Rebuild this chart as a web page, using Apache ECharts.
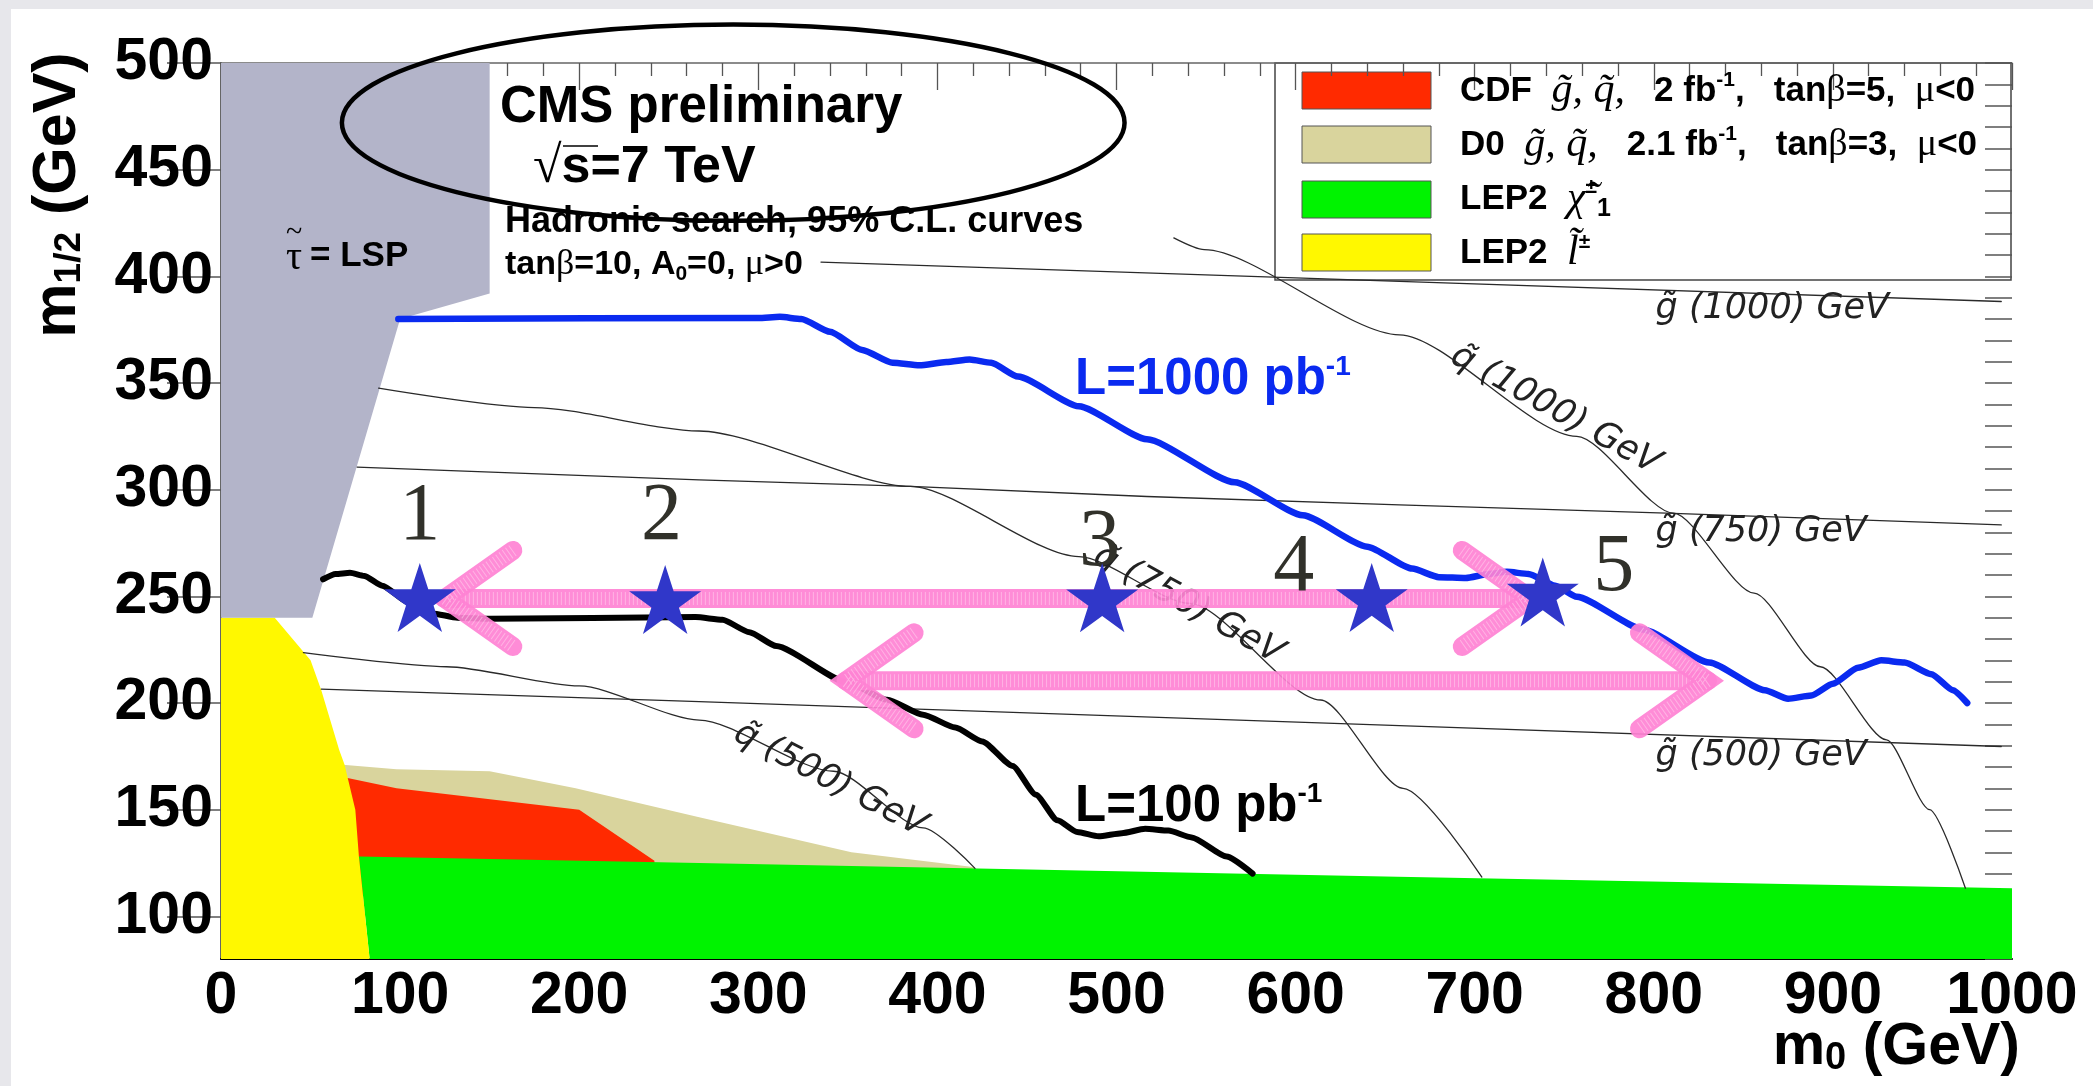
<!DOCTYPE html>
<html>
<head>
<meta charset="utf-8">
<script src="https://cdn.jsdelivr.net/npm/echarts@6/dist/echarts.min.js"></script>
<style>
html, body { margin: 0; padding: 0; background: #e7e7eb; }
#chart { position: absolute; left: 0; top: 0; width: 2093px; height: 1086px; }
</style>
</head>
<body>
<div id="chart"></div>
<script>
// ---- axis ticks ----
const yTickLabels = [100, 150, 200, 250, 300, 350, 400, 450, 500];
const yMinorTicks = [80, 90, 100, 110, 120, 130, 140, 150, 160, 170, 180, 190, 200, 210, 220, 230, 240, 250,
  260, 270, 280, 290, 300, 310, 320, 330, 340, 350, 360, 370, 380, 390, 400, 410, 420, 430, 440, 450, 460, 470, 480, 490, 500];

// ---- excluded regions (m0, m1/2) ----
const tauLspRegion = [[0, 500], [150, 500], [150, 392], [100, 380], [51, 240], [0, 240]];
const lep2SleptonRegion = [[0, 80], [0, 240], [30, 240], [46, 224], [50, 220], [56, 206], [66, 178], [69, 171], [75, 150], [77, 128], [83, 80]];
const d0Region = [[68, 171], [98, 169], [150, 168], [198, 160], [267, 146.5], [352, 130], [421, 123], [421, 100], [68, 100]];
const cdfRegion = [[70, 165], [98, 160], [200, 150], [242, 126], [242, 110], [76, 110]];
const lep2CharginoRegion = [[77, 128], [267, 125], [657, 118.6], [1000, 113.2], [1000, 80], [83, 80]];

// ---- iso-mass contours ----
const gluino500 = [[56, 206.5], [267, 200.6], [658, 189.4], [994, 179.6]];
const gluino750 = [[76, 310.6], [267, 304.6], [385, 301.5], [517, 296.8], [658, 292.9], [807, 289], [994, 283.5]];
const gluino1000 = [[335, 406.7], [575, 400], [658, 397.6], [994, 388.2]];
const squark500 = [[46, 223.6], [126, 217], [200, 208], [267, 192], [342, 168], [392, 141.5], [421, 122.5]];
const squark750 = [[88, 347.6], [175, 338.5], [267, 327.5], [385, 301.5], [479, 268.6], [541, 246.7], [614, 201.4], [660, 160], [704, 118.4]];
const squark1000 = [[532, 418], [549, 412.5], [658, 372.6], [757, 325], [811, 289], [856, 251.5], [893, 217], [930, 182.7], [954, 150], [974, 113.2]];

// ---- 95% C.L. reach ----
const limit100 = [[57, 258], [64, 260.5], [72, 261], [80, 259.5], [90, 255], [105, 247], [118, 242], [132, 240], [150, 239.5],
  [265, 240.3], [280, 239], [295, 233.2], [310, 226.7], [350, 209.5], [372, 201.5], [392, 194.5], [410, 188.5], [425, 182],
  [442, 170.5], [455, 157], [467, 145], [478, 139.5], [490, 137.5], [503, 139], [516, 141], [529, 140.2], [542, 137],
  [561.5, 128], [576, 120]];
const limit1000 = [[99, 380], [300, 380.5], [312, 381], [324, 380], [340, 374], [358, 365.5], [375, 359.5], [390, 358.3],
  [405, 359.8], [418, 361], [430, 359.5], [445, 353], [479, 339.1], [517, 323.6], [566, 303.5], [604, 288], [640, 273.3],
  [665, 263], [680, 259], [695, 258.6], [708, 260.5], [718, 261.5], [730, 260.5], [745, 255], [757, 249.8], [794, 234.5],
  [831, 219], [862, 206], [875, 202], [888, 203.5], [900, 209], [914, 216.5], [927, 220], [940, 219], [955, 213.5],
  [967, 206], [975, 200]];

// ---- benchmark points and scan arrows ----
const benchmarkPoints = [[111, 249.5], [248, 248.5], [492, 249.3], [642.5, 249.5], [738, 252]];
const benchmarkNumbers = [['1', 111, 287], ['2', 246, 287], ['3', 490.5, 275], ['4', 599, 263], ['5', 777.7, 263]];
const scanArrows = [[125, 731, 249], [349, 830, 210.4]]; // [from m0, to m0, m1/2]

// ---- contour labels [text, m0, m1/2, angle in degrees, anchor] ----
const contourLabels = [
  ['g\u0303 (1000) GeV', 801, 384.6, 0, 'left'],
  ['g\u0303 (750) GeV', 801, 280, 0, 'left'],
  ['g\u0303 (500) GeV', 801, 175, 0, 'left'],
  ['q\u0303 (1000) GeV', 745, 337.4, -29, 'center'],
  ['q\u0303 (750) GeV', 540, 246, -29, 'center'],
  ['q\u0303 (500) GeV', 340, 164, -27.5, 'center']
];

// ---- highlight ellipse [m0, m1/2, half width in m0, half height in m1/2] ----
const highlightEllipse = [[286, 472, 218.5, 46]];

const SANS = '"Liberation Sans", Arial, Helvetica, sans-serif';
const SERIF = '"Liberation Serif", "DejaVu Serif", "Times New Roman", serif';

const chart = echarts.init(document.getElementById('chart'), null, { renderer: 'canvas' });

function regionSeries(name, pts, color, z) {
  return {
    type: 'custom', name: name, z: z, silent: true, data: [pts[0]],
    renderItem: function (params, api) {
      return {
        type: 'polygon',
        shape: { points: pts.map(function (p) { return api.coord(p); }) },
        style: { fill: color, stroke: null }
      };
    }
  };
}

function lineSeries(name, pts, color, width, smooth, z) {
  return {
    type: 'line', name: name, data: pts, z: z, silent: true,
    showSymbol: false, symbol: 'none', smooth: smooth, smoothMonotone: 'x',
    lineStyle: { color: color, width: width, cap: 'round', join: 'round' },
    animation: false
  };
}

const starPath = 'path://M50,0 L61.8,36.2 L100,36.2 L69.1,58.6 L80.9,95.1 L50,72.7 L19.1,95.1 L30.9,58.6 L0,36.2 L38.2,36.2 Z';

function legendRich() {
  return {
    b: { fontFamily: SANS, fontWeight: 'bold', fontSize: 35, fill: '#000' },
    g: { fontFamily: SERIF, fontStyle: 'italic', fontSize: 42, fill: '#000' },
    s: { fontFamily: SERIF, fontSize: 38, fill: '#000' },
    u: { fontFamily: SANS, fontWeight: 'bold', fontSize: 21, fill: '#000', verticalAlign: 'top', padding: [0, 0, 20, 0] },
    d: { fontFamily: SANS, fontWeight: 'bold', fontSize: 25, fill: '#000', verticalAlign: 'bottom', padding: [20, 0, 0, 0] }
  };
}

const option = {
  animation: false,
  backgroundColor: 'transparent',
  grid: { left: 221, right: 81, top: 63, bottom: 127, containLabel: false },
  xAxis: [
    {
      type: 'value', min: 0, max: 1000, interval: 100, position: 'bottom',
      axisLine: { show: true, lineStyle: { color: '#000', width: 2 } },
      axisTick: { show: false }, splitLine: { show: false },
      axisLabel: { margin: 8, color: '#000', fontFamily: SANS, fontWeight: 'bold', fontSize: 59, formatter: function (v) { return String(v); } }
    },
    {
      type: 'value', min: 0, max: 1000, interval: 100, position: 'top',
      axisLine: { show: true, lineStyle: { color: '#666', width: 1.5 } },
      axisTick: { show: true, inside: true, length: 27, lineStyle: { color: '#555', width: 1.3 } },
      minorTick: { show: true, splitNumber: 5, length: 13, lineStyle: { color: '#555', width: 1.3 } },
      axisLabel: { show: false }, splitLine: { show: false }
    }
  ],
  yAxis: [
    {
      type: 'value', min: 80, max: 500, position: 'left',
      axisLine: { show: false }, axisTick: { show: false }, splitLine: { show: false },
      axisLabel: { customValues: yTickLabels, margin: 8, color: '#000', fontFamily: SANS, fontWeight: 'bold', fontSize: 59 }
    },
    {
      type: 'value', min: 80, max: 500, position: 'right',
      axisLine: { show: true, lineStyle: { color: '#666', width: 2 } },
      axisTick: { show: true, inside: true, length: 54, customValues: yTickLabels, lineStyle: { color: '#555', width: 1.5 } },
      axisLabel: { show: false }, splitLine: { show: false }
    },
    {
      type: 'value', min: 80, max: 500, position: 'right',
      axisLine: { show: false },
      axisTick: { show: true, inside: true, length: 27, customValues: yMinorTicks, lineStyle: { color: '#555', width: 1.5 } },
      axisLabel: { show: false }, splitLine: { show: false }
    }
  ],
  series: [
    regionSeries('D0', d0Region, '#d9d49d', 2),
    regionSeries('CDF', cdfRegion, '#ff2a00', 2),
    regionSeries('LEP2 chargino', lep2CharginoRegion, '#00f300', 2),
    regionSeries('LEP2 slepton', lep2SleptonRegion, '#fff800', 2),
    regionSeries('stau LSP', tauLspRegion, '#b3b4c9', 2),
    lineSeries('g500', gluino500, '#2a2a2a', 1.3, false, 3),
    lineSeries('g750', gluino750, '#2a2a2a', 1.3, false, 3),
    lineSeries('g1000', gluino1000, '#2a2a2a', 1.3, false, 3),
    lineSeries('q500', squark500, '#2a2a2a', 1.3, 0.25, 3),
    lineSeries('q750', squark750, '#2a2a2a', 1.3, 0.25, 3),
    lineSeries('q1000', squark1000, '#2a2a2a', 1.3, 0.25, 3),
    lineSeries('L=100', limit100, '#000000', 6, 0.2, 4),
    lineSeries('L=1000', limit1000, '#0a2af0', 6.5, 0.2, 4),
    {
      type: 'custom', name: 'contour labels', z: 5, silent: true, data: contourLabels.map(function (d) { return [d[1], d[2]]; }),
      renderItem: function (params, api) {
        const d = contourLabels[params.dataIndex];
        const p = api.coord([d[1], d[2]]);
        return {
          type: 'text', x: p[0], y: p[1], rotation: d[3] * Math.PI / 180,
          style: { text: d[0], fill: '#222', fontFamily: '"DejaVu Sans", sans-serif', fontStyle: 'italic', fontSize: 35, align: d[4], verticalAlign: 'middle' }
        };
      }
    },
    {
      type: 'custom', name: 'scan arrows', z: 6, silent: true, data: scanArrows.map(function (a) { return [a[0], a[2]]; }),
      renderItem: function (params, api) {
        const a = scanArrows[params.dataIndex];
        const p1 = api.coord([a[0], a[2]]);
        const p2 = api.coord([a[1], a[2]]);
        const hx = 68, hy = 48;
        const paths = [
          [p1, p2],
          [[p1[0] + hx, p1[1] - hy], p1, [p1[0] + hx, p1[1] + hy]],
          [[p2[0] - hx, p2[1] - hy], p2, [p2[0] - hx, p2[1] + hy]]
        ];
        const children = [];
        paths.forEach(function (pts) {
          children.push({ type: 'polyline', shape: { points: pts }, style: { stroke: 'rgba(255,130,212,0.92)', lineWidth: 19, lineCap: 'round', lineJoin: 'miter', fill: null } });
          children.push({ type: 'polyline', shape: { points: pts }, style: { stroke: 'rgba(255,220,242,0.5)', lineWidth: 13, lineDash: [1, 3], lineCap: 'butt', fill: null } });
        });
        return { type: 'group', children: children };
      }
    },
    {
      type: 'scatter', name: 'benchmarks', z: 7, silent: true, data: benchmarkPoints,
      symbol: starPath, symbolSize: [72, 69], itemStyle: { color: '#3037c9', opacity: 1 }
    },
    {
      type: 'custom', name: 'benchmark numbers', z: 7, silent: true, data: benchmarkNumbers.map(function (d) { return [d[1], d[2]]; }),
      renderItem: function (params, api) {
        const d = benchmarkNumbers[params.dataIndex];
        const p = api.coord([d[1], d[2]]);
        return {
          type: 'text', x: p[0], y: p[1],
          style: { text: d[0], fill: '#31312a', fontFamily: SERIF, fontSize: 82, align: 'center', verticalAlign: 'middle' }
        };
      }
    },
    {
      type: 'custom', name: 'ellipse', z: 9, silent: true, data: highlightEllipse.map(function (e) { return [e[0], e[1]]; }),
      renderItem: function (params, api) {
        const e = highlightEllipse[params.dataIndex];
        const c = api.coord([e[0], e[1]]);
        const s = api.size([e[2], e[3]]);
        return {
          type: 'ellipse', shape: { cx: c[0], cy: c[1], rx: s[0], ry: s[1] },
          style: { fill: null, stroke: '#000', lineWidth: 4.5 }
        };
      }
    }
  ],
  graphic: [
    // white panel
    { type: 'rect', z: -10, shape: { x: 11, y: 9, width: 2082, height: 1077 }, style: { fill: '#ffffff' } },
    // axis titles
    {
      type: 'text', z: 10, x: 58, y: 195, rotation: Math.PI / 2,
      style: {
        text: '{t|m}{s|1/2}{t| (GeV)}', align: 'center', verticalAlign: 'middle',
        rich: {
          t: { fontFamily: SANS, fontWeight: 'bold', fontSize: 61, fill: '#000' },
          s: { fontFamily: SANS, fontWeight: 'bold', fontSize: 37, fill: '#000', verticalAlign: 'bottom', padding: [22, 0, 0, 0] }
        }
      }
    },
    {
      type: 'text', z: 10, x: 2020, y: 1048,
      style: {
        text: '{t|m}{s|0}{t| (GeV)}', align: 'right', verticalAlign: 'middle',
        rich: {
          t: { fontFamily: SANS, fontWeight: 'bold', fontSize: 59, fill: '#000' },
          s: { fontFamily: SANS, fontWeight: 'bold', fontSize: 38, fill: '#000', verticalAlign: 'bottom', padding: [22, 0, 0, 0] }
        }
      }
    },
    // stau LSP label
    { type: 'text', z: 10, x: 286, y: 258, style: { text: '\u03c4', fontFamily: SERIF, fontSize: 40, fill: '#000', verticalAlign: 'middle' } },
    { type: 'text', z: 10, x: 294, y: 233, style: { text: '~', fontFamily: SERIF, fontSize: 30, fill: '#000', align: 'center', verticalAlign: 'middle' } },
    { type: 'text', z: 10, x: 310, y: 256, style: { text: '= LSP', fontFamily: SANS, fontWeight: 'bold', fontSize: 35, fill: '#000', verticalAlign: 'middle' } },
    // CMS text block
    { type: 'text', z: 8, x: 500, y: 108, style: { text: 'CMS preliminary', fontFamily: SANS, fontWeight: 'bold', fontSize: 51, fill: '#000', verticalAlign: 'middle' } },
    {
      type: 'text', z: 8, x: 533, y: 168,
      style: {
        text: '{r|\u221a}{b|s=7 TeV}', verticalAlign: 'middle',
        rich: {
          r: { fontFamily: SERIF, fontSize: 52, fill: '#000' },
          b: { fontFamily: SANS, fontWeight: 'bold', fontSize: 52, fill: '#000' }
        }
      }
    },
    { type: 'line', z: 8, shape: { x1: 563, y1: 146, x2: 598, y2: 146 }, style: { stroke: '#000', lineWidth: 1.5 } },
    { type: 'text', z: 8, x: 505, y: 222, style: { text: 'Hadronic search, 95% C.L. curves', fontFamily: SANS, fontWeight: 'bold', fontSize: 36, fill: '#000', verticalAlign: 'middle' } },
    {
      type: 'text', z: 8, x: 505, y: 265,
      style: {
        text: '{b|tan}{g|\u03b2}{b|=10, A}{s|0}{b|=0, }{g|\u03bc}{b|>0}', verticalAlign: 'middle',
        rich: {
          b: { fontFamily: SANS, fontWeight: 'bold', fontSize: 34, fill: '#000' },
          g: { fontFamily: SERIF, fontSize: 36, fill: '#000' },
          s: { fontFamily: SANS, fontWeight: 'bold', fontSize: 21, fill: '#000', verticalAlign: 'bottom', padding: [18, 0, 0, 0] }
        }
      }
    },
    // curve labels
    {
      type: 'text', z: 10, x: 1075, y: 380,
      style: {
        text: '{b|L=1000 pb}{s|-1}', verticalAlign: 'middle',
        rich: {
          b: { fontFamily: SANS, fontWeight: 'bold', fontSize: 51, fill: '#0a2af0' },
          s: { fontFamily: SANS, fontWeight: 'bold', fontSize: 28, fill: '#0a2af0', verticalAlign: 'top', padding: [0, 0, 26, 0] }
        }
      }
    },
    {
      type: 'text', z: 10, x: 1075, y: 807,
      style: {
        text: '{b|L=100 pb}{s|-1}', verticalAlign: 'middle',
        rich: {
          b: { fontFamily: SANS, fontWeight: 'bold', fontSize: 51, fill: '#000' },
          s: { fontFamily: SANS, fontWeight: 'bold', fontSize: 28, fill: '#000', verticalAlign: 'top', padding: [0, 0, 26, 0] }
        }
      }
    },
    // legend
    {
      type: 'group', z: 12, children: [
        { type: 'rect', shape: { x: 1275, y: 63, width: 736, height: 217 }, style: { fill: '#fff', stroke: '#444', lineWidth: 1.5 } },
        { type: 'rect', shape: { x: 1302, y: 72, width: 129, height: 37 }, style: { fill: '#ff2a00', stroke: '#555', lineWidth: 1 } },
        { type: 'rect', shape: { x: 1302, y: 126, width: 129, height: 37 }, style: { fill: '#d9d49d', stroke: '#555', lineWidth: 1 } },
        { type: 'rect', shape: { x: 1302, y: 181, width: 129, height: 37 }, style: { fill: '#00f300', stroke: '#555', lineWidth: 1 } },
        { type: 'rect', shape: { x: 1302, y: 234, width: 129, height: 37 }, style: { fill: '#fff800', stroke: '#555', lineWidth: 1 } }
      ]
    },
    {
      type: 'text', z: 13, x: 1460, y: 91,
      style: {
        text: '{b|CDF  }{g|g\u0303, q\u0303,}{b|   2 fb}{u|-1}{b|,   tan}{s|\u03b2}{b|=5,  }{s|\u03bc}{b|<0}', verticalAlign: 'middle',
        rich: legendRich()
      }
    },
    {
      type: 'text', z: 13, x: 1460, y: 145,
      style: {
        text: '{b|D0  }{g|g\u0303, q\u0303,}{b|   2.1 fb}{u|-1}{b|,   tan}{s|\u03b2}{b|=3,  }{s|\u03bc}{b|<0}', verticalAlign: 'middle',
        rich: legendRich()
      }
    },
    {
      type: 'text', z: 13, x: 1460, y: 199,
      style: {
        text: '{b|LEP2  }{g|\u03c7\u0303}{u|\u00b1}{d|1}', verticalAlign: 'middle',
        rich: legendRich()
      }
    },
    {
      type: 'text', z: 13, x: 1460, y: 253,
      style: {
        text: '{b|LEP2  }{g|l\u0303}{u|\u00b1}', verticalAlign: 'middle',
        rich: legendRich()
      }
    }
  ]
};

chart.setOption(option);
</script>
</body>
</html>
